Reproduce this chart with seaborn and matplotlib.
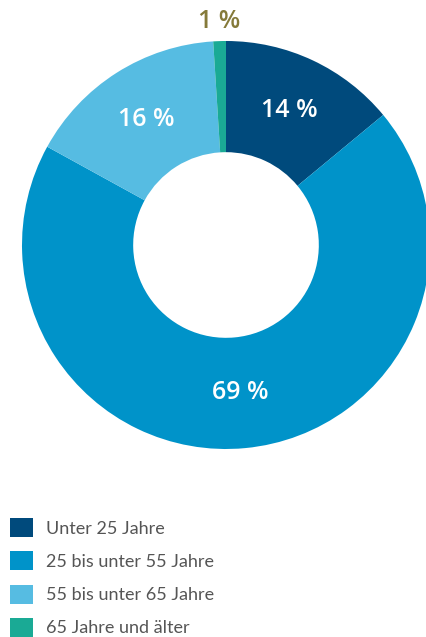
import matplotlib
matplotlib.use("Agg")
import matplotlib.pyplot as plt
import numpy as np
import seaborn as sns

# data
categories = ["Unter 25 Jahre", "25 bis unter 55 Jahre", "55 bis unter 65 Jahre", "65 Jahre und älter"]
shares = [14, 69, 16, 1]
colors = ["#004a7c", "#0093c9", "#56bce2", "#1aaa95"]

sns.set_theme(style="white")
plt.rcParams["font.family"] = ["Lato", "DejaVu Sans"]

W, H = 427, 637
fig = plt.figure(figsize=(W / 100, H / 100), dpi=100)
fig.patch.set_facecolor("white")

# donut: centre (226, 245) px, outer radius 204 px
cx, cy, r = 226, 245, 204
ax = fig.add_axes([(cx - r) / W, (H - cy - r) / H, 2 * r / W, 2 * r / H])
wedges, texts = ax.pie(
    shares,
    colors=colors,
    startangle=90,
    counterclock=False,
    radius=1,
    wedgeprops=dict(width=0.545, linewidth=0),
)
ax.set_xlim(-1, 1)
ax.set_ylim(-1, 1)
ax.axis("off")

for w, v in zip(wedges, shares):
    ang = np.deg2rad((w.theta1 + w.theta2) / 2)
    if v < 5:
        d, col = 1.095, "#857a3a"
    else:
        d, col = 0.728, "white"
    ax.text(d * np.cos(ang), d * np.sin(ang), f"{v} %", ha="center", va="center",
            fontsize=18, fontweight="semibold", color=col, family=["Open Sans", "DejaVu Sans"])

leg = fig.legend(
    wedges, categories,
    loc="upper left",
    bbox_to_anchor=(3 / W, 1 - 511 / H),
    frameon=False,
    fontsize=13,
    handlelength=1.25,
    handleheight=1.25,
    handletextpad=0.75,
    labelspacing=0.78,
    borderaxespad=0,
)
for t in leg.get_texts():
    t.set_color("#555555")

fig.savefig("out.png", dpi=100, facecolor="white")
